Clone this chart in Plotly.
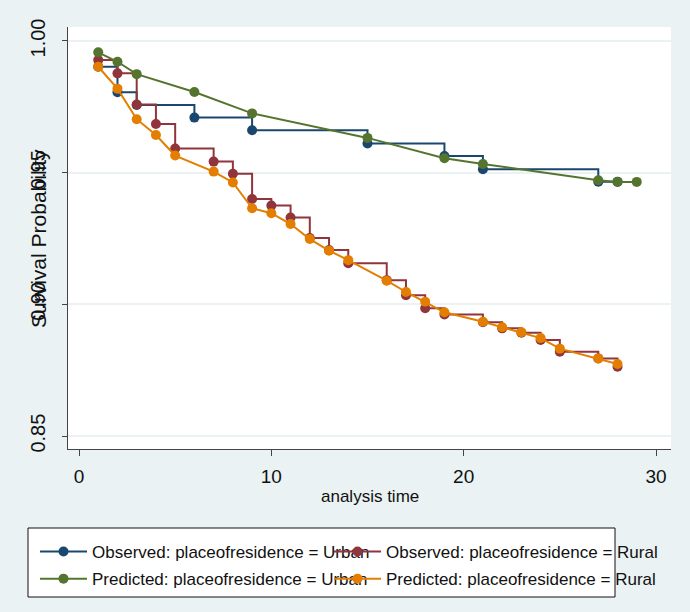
import plotly.graph_objects as go

# ---- data ----
t_obs_urban = [1, 2, 3, 6, 9, 15, 19, 21, 27, 28]
s_obs_urban = [0.9902, 0.9805, 0.9757, 0.9709, 0.9661, 0.9611, 0.9563, 0.9513, 0.9466, 0.9466]

t_obs_rural = [1, 2, 3, 4, 5, 7, 8, 9, 10, 11, 12, 13, 14, 16, 17, 18, 19, 21, 22, 23, 24, 25, 27, 28]
s_obs_rural = [0.9928, 0.9877, 0.9759, 0.9685, 0.9592, 0.9542, 0.9496, 0.9400, 0.9375, 0.9330,
               0.9252, 0.9206, 0.9156, 0.9092, 0.9035, 0.8985, 0.8962, 0.8932, 0.8909, 0.8892,
               0.8865, 0.8820, 0.8795, 0.8763]

t_pred_urban = [1, 2, 3, 6, 9, 15, 19, 21, 27, 28, 29]
s_pred_urban = [0.9957, 0.9921, 0.9874, 0.9806, 0.9725, 0.9632, 0.9555, 0.9533, 0.9471, 0.9465, 0.9465]

t_pred_rural = [1, 2, 3, 4, 5, 7, 8, 9, 10, 11, 12, 13, 14, 16, 17, 18, 19, 21, 22, 23, 24, 25, 27, 28]
s_pred_rural = [0.9902, 0.9819, 0.9703, 0.9643, 0.9565, 0.9504, 0.9463, 0.9365, 0.9346, 0.9305,
                0.9248, 0.9204, 0.9168, 0.9090, 0.9047, 0.9010, 0.8970, 0.8934, 0.8913, 0.8894,
                0.8872, 0.8832, 0.8795, 0.8774]

x_ticks = [0, 10, 20, 30]
y_ticks = [0.85, 0.90, 0.95, 1.00]
y_ticktext = ["0.85", "0.90", "0.95", "1.00"]

names = ["Observed: placeofresidence = Urban", "Observed: placeofresidence = Rural",
         "Predicted: placeofresidence = Urban", "Predicted: placeofresidence = Rural"]

NAVY = "#1a476f"
MAROON = "#90353b"
GREEN = "#55752f"
ORANGE = "#e37e00"

FONT = "Liberation Sans, Arial, sans-serif"
TXT = "#111111"

fig = go.Figure()
fig.add_trace(go.Scatter(x=t_obs_urban, y=s_obs_urban, name=names[0], mode="lines+markers",
                         line=dict(color=NAVY, width=2, shape="hv"),
                         marker=dict(color=NAVY, size=10), legend="legend", legendgroup="a"))
fig.add_trace(go.Scatter(x=t_obs_rural, y=s_obs_rural, name=names[1], mode="lines+markers",
                         line=dict(color=MAROON, width=2, shape="hv"),
                         marker=dict(color=MAROON, size=10), legend="legend2", legendgroup="b"))
fig.add_trace(go.Scatter(x=t_pred_urban, y=s_pred_urban, name=names[2], mode="lines+markers",
                         line=dict(color=GREEN, width=2),
                         marker=dict(color=GREEN, size=10), legend="legend", legendgroup="c"))
fig.add_trace(go.Scatter(x=t_pred_rural, y=s_pred_rural, name=names[3], mode="lines+markers",
                         line=dict(color=ORANGE, width=2),
                         marker=dict(color=ORANGE, size=10), legend="legend2", legendgroup="d"))

W, H = 690, 612
ml, mr, mt, mb = 68, 19, 27, 163
pw, ph = W - ml - mr, H - mt - mb

def px2x(px):
    return (px - ml) / pw

def py2y(py):
    return (H - mb - py) / ph

leg_common = dict(orientation="v", yanchor="top", xanchor="left", itemwidth=47,
                  tracegroupgap=2, bgcolor="rgba(0,0,0,0)", borderwidth=0,
                  font=dict(family=FONT, size=17, color=TXT))

fig.update_layout(
    width=W, height=H, autosize=False,
    margin=dict(l=ml, r=mr, t=mt, b=mb, pad=0),
    paper_bgcolor="#eaf2f3", plot_bgcolor="white",
    font=dict(family=FONT, size=17, color=TXT),
    showlegend=True,
    legend=dict(x=px2x(35), y=py2y(534), **leg_common),
    legend2=dict(x=px2x(329), y=py2y(534), **leg_common),
    xaxis=dict(range=[-0.572, 30.78], tickvals=x_ticks, ticks="outside", ticklen=6,
               tickcolor="#444", showline=True, linecolor="#444", linewidth=1,
               showgrid=False, zeroline=False, ticklabelstandoff=4,
               tickfont=dict(family=FONT, size=19, color=TXT)),
    yaxis=dict(range=[0.8451, 1.0053], tickvals=y_ticks, ticktext=y_ticktext, tickangle=-90,
               ticks="outside", ticklen=5, tickcolor="#444", showline=True, linecolor="#444",
               linewidth=1, showgrid=True, gridcolor="#eaf2f3", gridwidth=2, zeroline=False,
               ticklabelstandoff=9,
               tickfont=dict(family=FONT, size=20, color=TXT)),
    shapes=[dict(type="rect", xref="paper", yref="paper",
                 x0=px2x(28), x1=px2x(615), y0=py2y(597), y1=py2y(528),
                 line=dict(color="#111111", width=1), fillcolor="white", layer="above")],
    annotations=[
        dict(text="analysis time", xref="paper", yref="paper", x=0.5, y=py2y(496),
             xanchor="center", yanchor="middle", showarrow=False,
             font=dict(family=FONT, size=17, color=TXT)),
        dict(text="Survival Probability", xref="paper", yref="paper", x=px2x(38), y=py2y(239),
             xanchor="center", yanchor="middle", textangle=-90, showarrow=False,
             font=dict(family=FONT, size=21, color=TXT)),
    ],
)

fig.write_html("out.html",
               config={"displayModeBar": False},
               post_script="document.body.style.margin='0';document.body.style.padding='0';"
                           "document.body.style.overflow='hidden';")
